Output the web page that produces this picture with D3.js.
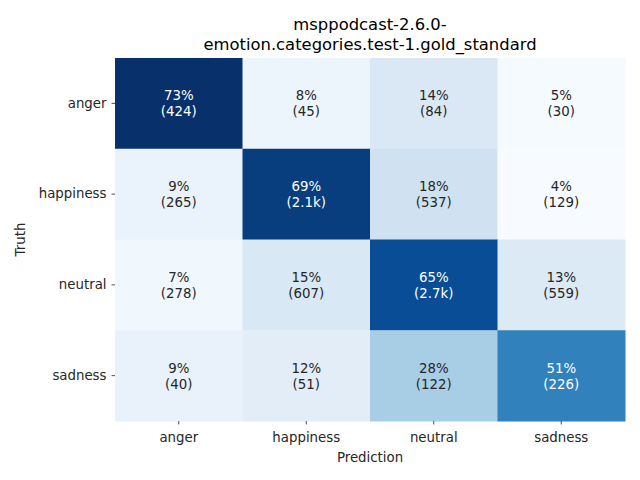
<!DOCTYPE html>
<html><head><meta charset="utf-8">
<script src="https://cdn.jsdelivr.net/npm/d3@7"></script>
<style>body{margin:0;background:#fff;}svg{display:block;font-family:"DejaVu Sans",sans-serif;}</style>
</head><body>
<svg id="c" width="640" height="480"></svg>
<script>
const categories = ["anger", "happiness", "neutral", "sadness"];
const percentValues = [
  [72.7, 7.7, 14.4, 5.1],
  [8.7, 69.3, 17.7, 4.3],
  [6.7, 14.6, 65.2, 13.5],
  [9.1, 11.6, 27.8, 51.5]
];
const percentLabels = [
  ["73%", "8%", "14%", "5%"],
  ["9%", "69%", "18%", "4%"],
  ["7%", "15%", "65%", "13%"],
  ["9%", "12%", "28%", "51%"]
];
const countLabels = [
  ["(424)", "(45)", "(84)", "(30)"],
  ["(265)", "(2.1k)", "(537)", "(129)"],
  ["(278)", "(607)", "(2.7k)", "(559)"],
  ["(40)", "(51)", "(122)", "(226)"]
];
const titleLines = ["msppodcast-2.6.0-", "emotion.categories.test-1.gold_standard"];
const xLabel = "Prediction", yLabel = "Truth";

const blues = ["#f7fbff","#deebf7","#c6dbef","#9ecae1","#6baed6","#4292c6","#2171b5","#08519c","#08306b"];
const flat = percentValues.flat();
const vmin = d3.min(flat), vmax = d3.max(flat);
const color = d3.scaleLinear()
  .domain(blues.map((_, i) => vmin + (vmax - vmin) * i / (blues.length - 1)))
  .range(blues).interpolate(d3.interpolateRgb).clamp(true);

const svg = d3.select("#c");
const L = 115, R = 625, T = 58, B = 421;
const x = d3.scaleBand().domain(categories).range([L, R]).padding(0);
const y = d3.scaleBand().domain(categories).range([T, B]).padding(0);
const txt = "#262626";

const cells = [];
categories.forEach((t, i) => categories.forEach((p, j) => cells.push({t, p, v: percentValues[i][j], pl: percentLabels[i][j], cl: countLabels[i][j]})));

svg.selectAll("rect.cell").data(cells).enter().append("rect")
  .attr("x", d => x(d.p)).attr("y", d => y(d.t))
  .attr("width", x.bandwidth() + 0.5).attr("height", y.bandwidth() + 0.5)
  .attr("fill", d => color(d.v));

const lum = c => { const r = d3.rgb(c); const f = v => { v/=255; return v <= 0.03928 ? v/12.92 : Math.pow((v+0.055)/1.055, 2.4); }; return 0.2126*f(r.r)+0.7152*f(r.g)+0.0722*f(r.b); };

const g = svg.selectAll("text.cell").data(cells).enter().append("text")
  .attr("text-anchor", "middle").attr("font-size", "13.33px")
  .attr("fill", d => lum(color(d.v)) > 0.408 ? txt : "#ffffff");
g.append("tspan").attr("x", d => x(d.p) + x.bandwidth()/2).attr("y", d => y(d.t) + y.bandwidth()/2 - 3).text(d => d.pl);
g.append("tspan").attr("x", d => x(d.p) + x.bandwidth()/2).attr("y", d => y(d.t) + y.bandwidth()/2 + 13).text(d => d.cl);

const xAxis = svg.append("g").attr("transform", `translate(0,${B})`)
  .call(d3.axisBottom(x).tickSize(3.5).tickPadding(8));
const yAxis = svg.append("g").attr("transform", `translate(${L},0)`)
  .call(d3.axisLeft(y).tickSize(3.5).tickPadding(5));
[xAxis, yAxis].forEach(a => {
  a.select(".domain").remove();
  a.selectAll("line").attr("stroke", txt).attr("stroke-width", 0.8);
  a.selectAll("text").attr("fill", txt).attr("font-size", "13.33px").attr("font-family", "DejaVu Sans, sans-serif");
});

svg.append("text").attr("x", (L + R)/2).attr("y", 462).attr("text-anchor", "middle")
  .attr("font-size", "13.33px").attr("fill", txt).text(xLabel);
svg.append("text").attr("transform", `translate(25,${(T + B)/2}) rotate(-90)`).attr("text-anchor", "middle")
  .attr("font-size", "13.33px").attr("fill", txt).text(yLabel);
titleLines.forEach((s, i) => svg.append("text").attr("x", (L + R)/2).attr("y", 30 + i * 20)
  .attr("text-anchor", "middle").attr("font-size", "16.4px").attr("fill", "#000").text(s));
</script>
</body></html>
